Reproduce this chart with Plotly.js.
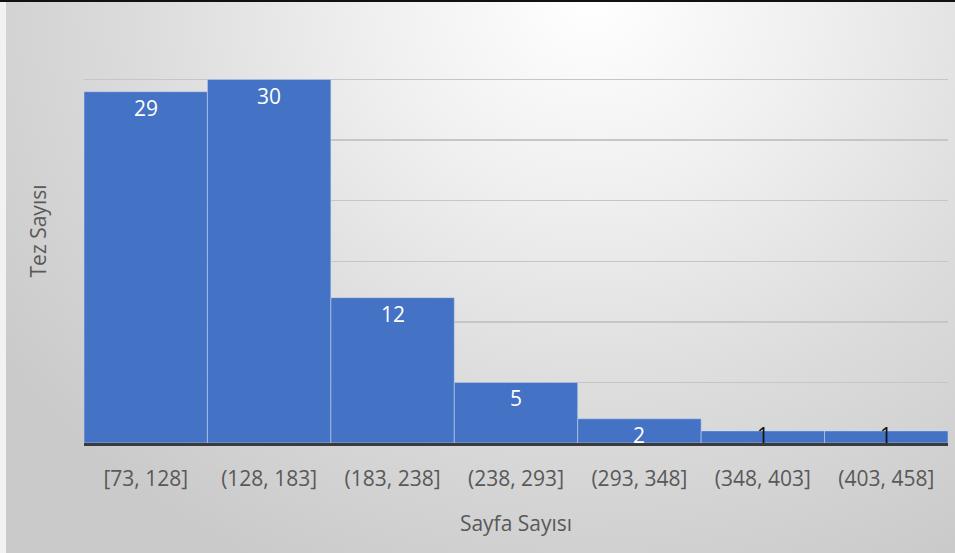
<!DOCTYPE html>
<html>
<head>
<meta charset="utf-8">
<script src="https://cdn.plot.ly/plotly-3.0.1.min.js"></script>
<style>
  html, body { margin: 0; padding: 0; }
  #wrap {
    position: relative; width: 955px; height: 553px; overflow: hidden;
    background: radial-gradient(ellipse 75% 115% at 62% 0%, #ffffff 0%, #f0f0f0 30%, #dbdbdb 65%, #cacaca 100%);
  }
  #topline { position: absolute; left: 0; top: 0; width: 955px; height: 2px; background: #111; z-index: 5; }
  #leftstrip { position: absolute; left: 0; top: 2px; width: 6px; height: 551px; background: #f2f2f2; z-index: 5; }
  #chart { position: absolute; left: 0; top: 0; width: 955px; height: 553px; }
</style>
</head>
<body>
<div id="wrap">
  <div id="topline"></div>
  <div id="leftstrip"></div>
  <div id="chart"></div>
</div>
<script>
const categories = ["[73, 128]", "(128, 183]", "(183, 238]", "(238, 293]", "(293, 348]", "(348, 403]", "(403, 458]"];
const counts = [29, 30, 12, 5, 2, 1, 1];
const xTitle = "Sayfa Sayısı";
const yTitle = "Tez Sayısı";

const FONT = "Open Sans, Liberation Sans, sans-serif";

const trace = {
  type: "bar",
  x: categories,
  y: counts,
  marker: { color: "#4472C4", line: { color: "rgba(200,215,240,0.55)", width: 1 } },
  hoverinfo: "x+y"
};

// labels sit just inside the top of each bar, but never below the axis floor
const labelFloor = 2;
const annotations = counts.map((v, i) => ({
  x: categories[i],
  y: Math.max(v, labelFloor),
  xref: "x", yref: "y",
  text: String(v),
  showarrow: false,
  yanchor: "top",
  yshift: 0,
  font: { family: FONT, size: 21, color: v >= 2 ? "#ffffff" : "#111111" }
}));

const layout = {
  width: 955, height: 553,
  margin: { l: 84, r: 7, t: 19, b: 110 },
  paper_bgcolor: "rgba(0,0,0,0)",
  plot_bgcolor: "rgba(0,0,0,0)",
  bargap: 0,
  showlegend: false,
  font: { family: FONT, size: 21, color: "#595959" },
  xaxis: {
    type: "category",
    showgrid: false,
    zeroline: false,
    showline: true,
    linecolor: "#3b3b3b",
    linewidth: 3,
    ticks: "",
    ticklabelstandoff: 15,
    tickfont: { family: FONT, size: 21, color: "#595959" },
    title: { text: xTitle, font: { family: FONT, size: 21, color: "#595959" }, standoff: 26 },
    automargin: false
  },
  yaxis: {
    range: [0, 35],
    dtick: 5,
    showgrid: true,
    gridcolor: "#c6c6c6",
    gridwidth: 1.5,
    zeroline: false,
    showline: false,
    showticklabels: false,
    ticks: "",
    title: { text: yTitle, font: { family: FONT, size: 21, color: "#595959" }, standoff: 30 },
    automargin: false
  },
  annotations: annotations
};

Plotly.newPlot("chart", [trace], layout, { displayModeBar: false, staticPlot: true });
</script>
</body>
</html>
